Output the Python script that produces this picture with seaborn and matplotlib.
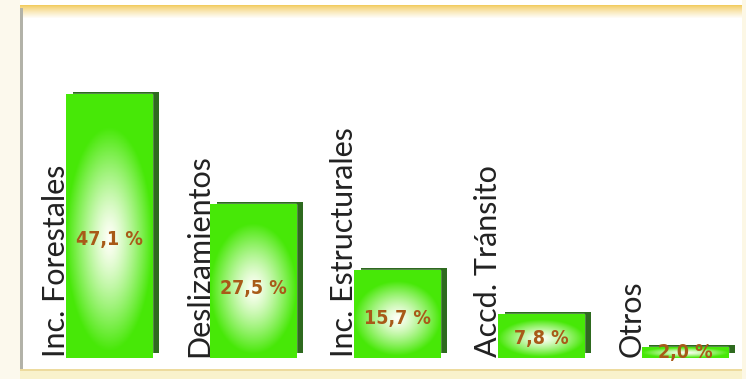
import numpy as np
import pandas as pd
import matplotlib
matplotlib.use("Agg")
import matplotlib.pyplot as plt
import seaborn as sns
from matplotlib.patches import Rectangle

# data
categorias = ["Inc. Forestales", "Deslizamientos", "Inc. Estructurales", "Accd. Tránsito", "Otros"]
porcentajes = [47.1, 27.5, 15.7, 7.8, 2.0]
etiquetas = ["47,1 %", "27,5 %", "15,7 %", "7,8 %", "2,0 %"]

df = pd.DataFrame({"cat": categorias, "pct": porcentajes})

sns.set_theme(style="white")
plt.rcParams["font.family"] = ["Lato", "DejaVu Sans"]

W, H = 746, 379
fig = plt.figure(figsize=(W / 100, H / 100), dpi=100)

# background frame (gold top band, grey left rule, pale bottom band)
bg = fig.add_axes([0, 0, 1, 1], zorder=0)
img = np.ones((H, W, 3))
gold = np.array([0.95, 0.80, 0.38])
for r in range(5, 19):
    t = ((r - 5) / 13.0) ** 0.8
    img[r, 20:742] = gold * (1 - t) + np.ones(3) * t
img[:, :20] = [0.99, 0.98, 0.93]
img[8:372, 20:23] = [0.70, 0.70, 0.66]
img[369:, 20:] = [0.98, 0.95, 0.80]
img[369:371, 20:] = [0.93, 0.86, 0.62]
img[:, 742:] = [0.99, 0.97, 0.90]
bg.imshow(img, aspect="auto", extent=(0, W, H, 0))
bg.axis("off")

ax = fig.add_axes([0, 0, 1, 1], zorder=1)
ax.patch.set_alpha(0)
px_unit = 5.6
base_px = 21
step = 144.0
x0 = 109.0
bar_w = 0.60
sns.barplot(data=df, x="cat", y="pct", color="#3fe014", width=bar_w,
            saturation=1, ax=ax, zorder=3)
ax.set_xlim(-x0 / step, (W - x0) / step)
ax.set_ylim(-base_px / px_unit, (H - base_px) / px_unit)
ax.axis("off")

# radial green glow
gy, gx = np.mgrid[-1:1:200j, -1:1:120j]
rad = np.sqrt((gx / 1.0) ** 2 + ((gy + 0.1) / 0.85) ** 2)
t = np.clip(rad, 0, 1) ** 1.3
c_in = np.array([1.0, 1.0, 0.97])
c_out = np.array([0.28, 0.91, 0.03])
grad = c_in[None, None, :] * (1 - t[..., None]) + c_out[None, None, :] * t[..., None]

dx = 7 / step
for p, lab in zip(ax.patches, etiquetas):
    x, y = p.get_x(), p.get_y()
    w, h = p.get_width(), p.get_height()
    sh = Rectangle((x + dx, y + 5 / px_unit), w, h - 5 / px_unit + 2 / px_unit,
                   facecolor="#2e6a1f", edgecolor="none", zorder=2)
    ax.add_patch(sh)
    im = ax.imshow(grad, extent=(x, x + w, y, y + h), aspect="auto",
                   zorder=3.5, origin="lower")
    im.set_clip_path(p)
    ax.text(x + w / 2, y + h * 0.45, lab, ha="center", va="center",
            fontsize=14, fontweight="bold", color="#a85a18",
            family="DejaVu Sans", fontstretch="condensed", zorder=5)

for i, cat in enumerate(categorias):
    ax.text(i - bar_w / 2 - 0.07, 0.2, cat, rotation=90, ha="center", va="bottom",
            fontsize=22, color="#222222", zorder=5)

fig.savefig("out.png", dpi=100)
